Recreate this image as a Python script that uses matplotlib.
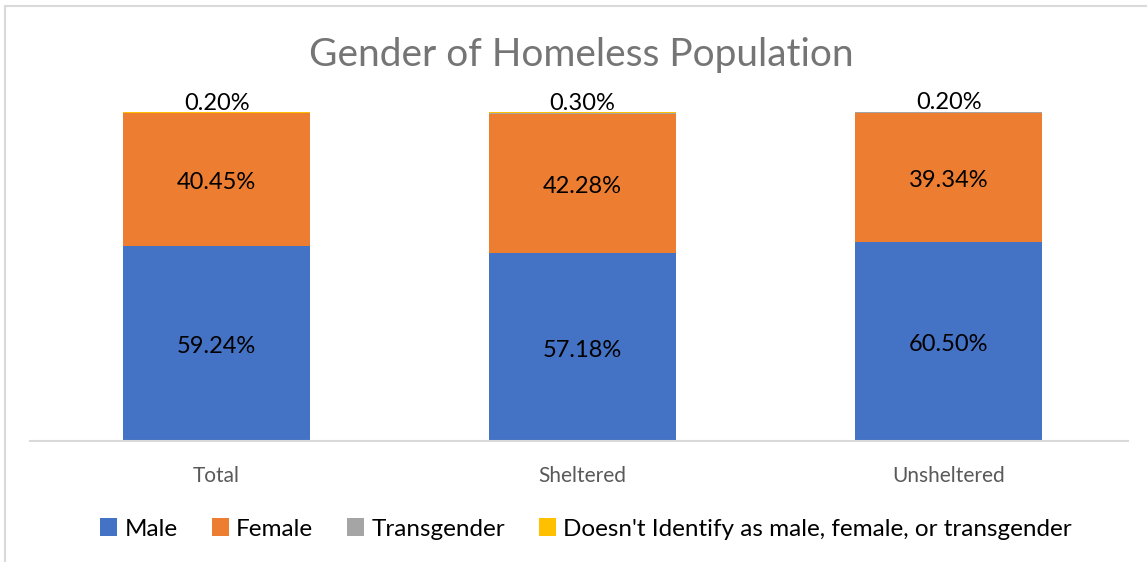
import numpy as np
import matplotlib.pyplot as plt
from matplotlib.patches import Rectangle

categories = ["Total", "Sheltered", "Unsheltered"]
male = [59.24, 57.18, 60.50]
female = [40.45, 42.28, 39.34]
transgender = [0.11, 0.24, 0.16]
not_identified = [0.20, 0.30, 0.20]

series = [
    ("Male", male, "#4472C4"),
    ("Female", female, "#ED7D31"),
    ("Transgender", transgender, "#A5A5A5"),
    ("Doesn't Identify as male, female, or transgender", not_identified, "#FFC000"),
]

plt.rcParams["font.family"] = ["Lato", "DejaVu Sans"]

fig = plt.figure(figsize=(11.47, 5.62), dpi=100)
ax = fig.add_axes([30 / 1147, 1 - 441 / 562, 1098 / 1147, 329 / 562])

x = np.arange(len(categories))
bottom = np.zeros(len(categories))
handles = []
for name, vals, col in series:
    vals = np.array(vals)
    h = ax.bar(x + 0.01, vals, 0.51, bottom=bottom, color=col, label=name, linewidth=0)
    handles.append(h)
    if name in ("Male", "Female"):
        for xi, b, v in zip(x, bottom, vals):
            ax.text(xi + 0.01, b + v / 2 - 1.0, f"{v:.2f}%", ha="center", va="center",
                    fontsize=17, color="black")
    bottom += vals

# small top label sits above the bar
for xi, top, v in zip(x, bottom, not_identified):
    ax.text(xi + 0.01, top - 0.6, f"{v:.2f}%", ha="center", va="bottom",
            fontsize=17, color="black", clip_on=False)

ax.set_xlim(-0.5, 2.5)
ax.set_ylim(0, 100)
ax.set_yticks([])
ax.set_xticks(x + 0.01)
ax.set_xticklabels(categories, fontsize=15, color="#595959")
ax.tick_params(axis="x", length=0, pad=18)
for s in ("top", "left", "right"):
    ax.spines[s].set_visible(False)
ax.spines["bottom"].set_color("#d9d9d9")
ax.spines["bottom"].set_linewidth(1.5)

fig.text(581 / 1147, 1 - 55 / 562, "Gender of Homeless Population",
         ha="center", va="center", fontsize=28, color="#757575")

fig.legend(handles=handles, loc="center", bbox_to_anchor=(586 / 1147, 1 - 529 / 562),
           ncol=4, frameon=False, fontsize=17.5, handlelength=0.7, handleheight=0.7,
           handletextpad=0.3, columnspacing=1.4)

# chart border (left and top edges visible)
fig.add_artist(Rectangle((5 / 1147, -0.1), 1.2, 1 - 6 / 562 + 0.1,
                         transform=fig.transFigure, fill=False,
                         edgecolor="#d9d9d9", linewidth=1.5))

fig.savefig("out.png", dpi=100)
